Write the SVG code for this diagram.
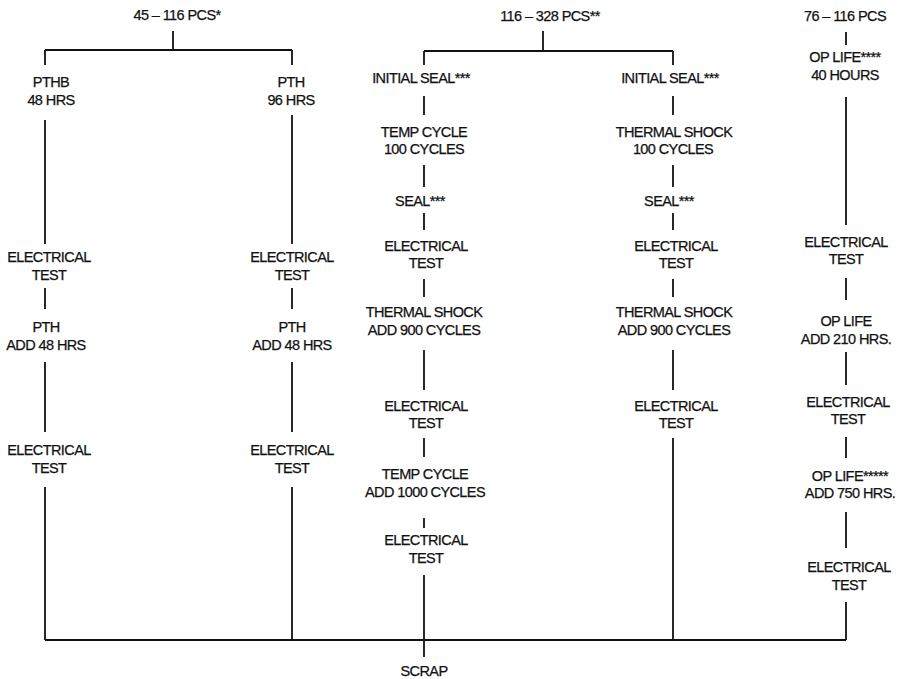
<svg xmlns="http://www.w3.org/2000/svg" width="899" height="679" viewBox="0 0 899 679">
<style>
text{font-family:"Liberation Sans",Arial,sans-serif;font-size:14.5px;letter-spacing:-0.6px;fill:#111;stroke:#111;stroke-width:0.25;text-anchor:middle}
.c line{stroke:#111;stroke-width:1.8;fill:none}
</style>
<rect width="899" height="679" fill="#fff"/>
<g class="c" id="connectors">
<line x1="173" y1="31" x2="173" y2="50"/>
<line x1="45" y1="50" x2="292" y2="50"/>
<line x1="45" y1="50" x2="45" y2="65"/>
<line x1="292" y1="50" x2="292" y2="65"/>
<line x1="45" y1="120" x2="45" y2="244"/>
<line x1="45" y1="288" x2="45" y2="309"/>
<line x1="45" y1="362" x2="45" y2="432"/>
<line x1="45" y1="487" x2="45" y2="640"/>
<line x1="292" y1="115" x2="292" y2="244"/>
<line x1="292" y1="288" x2="292" y2="309"/>
<line x1="292" y1="362" x2="292" y2="432"/>
<line x1="292" y1="487" x2="292" y2="640"/>
<line x1="543" y1="31" x2="543" y2="51"/>
<line x1="424" y1="51" x2="673" y2="51"/>
<line x1="424" y1="51" x2="424" y2="65"/>
<line x1="673" y1="51" x2="673" y2="65"/>
<line x1="424" y1="96" x2="424" y2="115"/>
<line x1="424" y1="165" x2="424" y2="187"/>
<line x1="424" y1="213" x2="424" y2="230"/>
<line x1="424" y1="279" x2="424" y2="297"/>
<line x1="424" y1="350" x2="424" y2="390"/>
<line x1="424" y1="438" x2="424" y2="457"/>
<line x1="424" y1="518" x2="424" y2="528"/>
<line x1="424" y1="575" x2="424" y2="657"/>
<line x1="673" y1="96" x2="673" y2="115"/>
<line x1="673" y1="165" x2="673" y2="187"/>
<line x1="673" y1="213" x2="673" y2="230"/>
<line x1="673" y1="279" x2="673" y2="297"/>
<line x1="673" y1="350" x2="673" y2="390"/>
<line x1="673" y1="438" x2="673" y2="640"/>
<line x1="846" y1="32" x2="846" y2="45"/>
<line x1="846" y1="97" x2="846" y2="225"/>
<line x1="846" y1="278" x2="846" y2="300"/>
<line x1="846" y1="352" x2="846" y2="385"/>
<line x1="846" y1="437" x2="846" y2="458"/>
<line x1="846" y1="512" x2="846" y2="548"/>
<line x1="846" y1="602" x2="846" y2="640"/>
<line x1="45" y1="640" x2="846" y2="640"/>
</g>
<g id="src1"><text x="177" y="20">45 – 116 PCS*</text></g>
<g id="src2"><text x="550" y="21">116 – 328 PCS**</text></g>
<g id="src3"><text x="845" y="21">76 – 116 PCS</text></g>
<g id="pthb"><text x="51" y="87">PTHB</text><text x="51" y="105">48 HRS</text></g>
<g id="c1e1"><text x="49" y="262">ELECTRICAL</text><text x="49" y="280">TEST</text></g>
<g id="c1p"><text x="46" y="332">PTH</text><text x="46" y="350">ADD 48 HRS</text></g>
<g id="c1e2"><text x="49" y="455">ELECTRICAL</text><text x="49" y="473">TEST</text></g>
<g id="pth"><text x="291" y="87">PTH</text><text x="291" y="105">96 HRS</text></g>
<g id="c2e1"><text x="292" y="262">ELECTRICAL</text><text x="292" y="280">TEST</text></g>
<g id="c2p"><text x="292" y="332">PTH</text><text x="292" y="350">ADD 48 HRS</text></g>
<g id="c2e2"><text x="292" y="455">ELECTRICAL</text><text x="292" y="473">TEST</text></g>
<g id="c3s"><text x="421" y="83">INITIAL SEAL***</text></g>
<g id="c3tc"><text x="424" y="137">TEMP CYCLE</text><text x="424" y="154">100 CYCLES</text></g>
<g id="c3seal"><text x="420" y="206">SEAL***</text></g>
<g id="c3e1"><text x="426" y="251">ELECTRICAL</text><text x="426" y="268">TEST</text></g>
<g id="c3ts"><text x="424" y="317">THERMAL SHOCK</text><text x="424" y="335">ADD 900 CYCLES</text></g>
<g id="c3e2"><text x="426" y="411">ELECTRICAL</text><text x="426" y="428">TEST</text></g>
<g id="c3tc2"><text x="425" y="479">TEMP CYCLE</text><text x="425" y="497">ADD 1000 CYCLES</text></g>
<g id="c3e3"><text x="426" y="545">ELECTRICAL</text><text x="426" y="563">TEST</text></g>
<g id="scrap"><text x="424" y="676">SCRAP</text></g>
<g id="c4s"><text x="670" y="83">INITIAL SEAL***</text></g>
<g id="c4ts"><text x="674" y="137">THERMAL SHOCK</text><text x="673" y="154">100 CYCLES</text></g>
<g id="c4seal"><text x="669" y="206">SEAL***</text></g>
<g id="c4e1"><text x="676" y="251">ELECTRICAL</text><text x="676" y="268">TEST</text></g>
<g id="c4ts2"><text x="674" y="317">THERMAL SHOCK</text><text x="674" y="335">ADD 900 CYCLES</text></g>
<g id="c4e2"><text x="676" y="411">ELECTRICAL</text><text x="676" y="428">TEST</text></g>
<g id="c5o1"><text x="845" y="62">OP LIFE****</text><text x="845" y="80">40 HOURS</text></g>
<g id="c5e1"><text x="846" y="247">ELECTRICAL</text><text x="846" y="264">TEST</text></g>
<g id="c5o2"><text x="846" y="326">OP LIFE</text><text x="846" y="344">ADD 210 HRS.</text></g>
<g id="c5e2"><text x="848" y="407">ELECTRICAL</text><text x="848" y="424">TEST</text></g>
<g id="c5o3"><text x="850" y="481">OP LIFE*****</text><text x="850" y="498">ADD 750 HRS.</text></g>
<g id="c5e3"><text x="849" y="572">ELECTRICAL</text><text x="849" y="590">TEST</text></g>
</svg>
